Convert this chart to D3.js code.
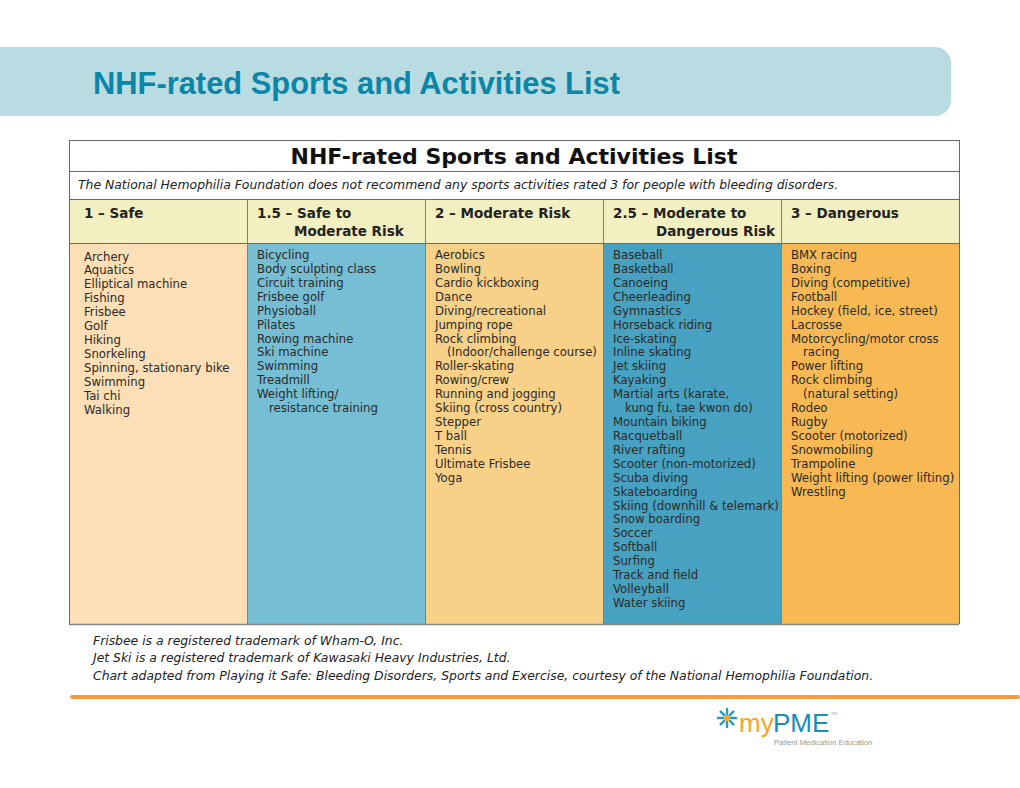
<!DOCTYPE html>
<html><head><meta charset="utf-8">
<script src="https://cdn.jsdelivr.net/npm/d3@7"></script>
<style>html,body{margin:0;padding:0;background:#fff;}svg{display:block;}</style>
</head><body>
<div id="chart"></div>
<script>
const pageTitle = "NHF-rated Sports and Activities List";
const tableTitle = "NHF-rated Sports and Activities List";
const tableNote = "The National Hemophilia Foundation does not recommend any sports activities rated 3 for people with bleeding disorders.";
const categories = [
  ["1 – Safe"],
  ["1.5 – Safe to", "Moderate Risk"],
  ["2 – Moderate Risk"],
  ["2.5 – Moderate to", "Dangerous Risk"],
  ["3 – Dangerous"]
];
const safe = ["Archery","Aquatics","Elliptical machine","Fishing","Frisbee","Golf","Hiking","Snorkeling","Spinning, stationary bike","Swimming","Tai chi","Walking"];
const safeToModerate = ["Bicycling","Body sculpting class","Circuit training","Frisbee golf","Physioball","Pilates","Rowing machine","Ski machine","Swimming","Treadmill",["Weight lifting/","resistance training"]];
const moderate = ["Aerobics","Bowling","Cardio kickboxing","Dance","Diving/recreational","Jumping rope",["Rock climbing","(Indoor/challenge course)"],"Roller-skating","Rowing/crew","Running and jogging","Skiing (cross country)","Stepper","T ball","Tennis","Ultimate Frisbee","Yoga"];
const moderateToDangerous = ["Baseball","Basketball","Canoeing","Cheerleading","Gymnastics","Horseback riding","Ice-skating","Inline skating","Jet skiing","Kayaking",["Martial arts (karate,","kung fu, tae kwon do)"],"Mountain biking","Racquetball","River rafting","Scooter (non-motorized)","Scuba diving","Skateboarding","Skiing (downhill & telemark)","Snow boarding","Soccer","Softball","Surfing","Track and field","Volleyball","Water skiing"];
const dangerous = ["BMX racing","Boxing","Diving (competitive)","Football","Hockey (field, ice, street)","Lacrosse",["Motorcycling/motor cross","racing"],"Power lifting",["Rock climbing","(natural setting)"],"Rodeo","Rugby","Scooter (motorized)","Snowmobiling","Trampoline","Weight lifting (power lifting)","Wrestling"];
const columnLists = [safe, safeToModerate, moderate, moderateToDangerous, dangerous];
const columnColors = ["#fddfb7","#76bed4","#f8d189","#47a1c0","#f8b955"];
const footnotes = [
  "Frisbee is a registered trademark of Wham-O, Inc.",
  "Jet Ski is a registered trademark of Kawasaki Heavy Industries, Ltd.",
  "Chart adapted from Playing it Safe: Bleeding Disorders, Sports and Exercise, courtesy of the National Hemophilia Foundation."
];

const W = 1020, H = 788;
const svg = d3.select("#chart").append("svg").attr("width", W).attr("height", H);

// header bar
const barPath = d3.path();
barPath.moveTo(0, 47); barPath.lineTo(935, 47);
barPath.arcTo(951, 47, 951, 63, 16); barPath.lineTo(951, 100);
barPath.arcTo(951, 116, 935, 116, 16); barPath.lineTo(0, 116); barPath.closePath();
svg.append("path").attr("d", barPath.toString()).attr("fill", "#b8dce2");
svg.append("text").attr("x", 93).attr("y", 94)
  .attr("font-family", "'Liberation Sans Narrow','Arial Narrow','Liberation Sans',Arial,sans-serif")
  .attr("font-weight", "bold").attr("font-size", 31).attr("fill", "#0a86a8")
  .attr("textLength", 527).attr("lengthAdjust", "spacingAndGlyphs")
  .text(pageTitle);

// table geometry
const x0 = 69, x1 = 959;
const xScale = d3.scaleBand().domain(d3.range(categories.length)).range([x0, x1]).paddingInner(0).paddingOuter(0);
const yTitle = 140, yNote = 171, yHead = 199, yBody = 243, yEnd = 624;
const rowH = 13.92;
const font = "'DejaVu Sans',Verdana,sans-serif";
const padLeft = [15, 10, 10, 10, 10];
const secondLineIndent = [0, 37, 0, 43, 0];
const g = svg.append("g");

g.selectAll("rect.col").data(columnLists).join("rect").attr("class","col")
  .attr("x", (d,i) => xScale(i)).attr("y", yBody)
  .attr("width", xScale.bandwidth()).attr("height", yEnd - yBody)
  .attr("fill", (d,i) => columnColors[i]);
g.selectAll("rect.head").data(categories).join("rect").attr("class","head")
  .attr("x", (d,i) => xScale(i)).attr("y", yHead)
  .attr("width", xScale.bandwidth()).attr("height", yBody - yHead)
  .attr("fill", "#f2f0c1");

const lineColor = "#6a6a6a";
[yTitle, yNote, yHead, yBody, yEnd].forEach(y => {
  g.append("line").attr("x1", x0).attr("x2", x1).attr("y1", y + 0.5).attr("y2", y + 0.5)
    .attr("stroke", y === yEnd ? "#888" : lineColor).attr("stroke-width", y === yEnd ? 1.5 : 1);
});
[x0, x1].forEach(x => g.append("line").attr("x1", x + 0.5).attr("x2", x + 0.5)
  .attr("y1", yTitle).attr("y2", yEnd).attr("stroke", lineColor));
d3.range(1, categories.length).forEach(i => {
  g.append("line").attr("x1", Math.round(xScale(i)) + 0.5).attr("x2", Math.round(xScale(i)) + 0.5)
    .attr("y1", yHead).attr("y2", yEnd).attr("stroke", "#808080");
});

g.append("text").attr("x", (x0 + x1) / 2).attr("y", 164).attr("text-anchor", "middle")
  .attr("font-family", font).attr("font-weight", "bold").attr("font-size", 21.5).attr("fill", "#111")
  .attr("textLength", 447).attr("lengthAdjust", "spacingAndGlyphs")
  .text(tableTitle);
g.append("text").attr("x", 78).attr("y", 188.5)
  .attr("font-family", font).attr("font-style", "italic").attr("font-size", 12.4).attr("fill", "#222")
  .text(tableNote);

categories.forEach((lines, i) => {
  const t = g.append("text").attr("font-family", font).attr("font-weight", "bold")
    .attr("font-size", 13.5).attr("fill", "#222");
  lines.forEach((l, k) => {
    t.append("tspan").attr("x", xScale(i) + padLeft[i] + (k > 0 ? secondLineIndent[i] : 0))
      .attr("y", 217.5 + k * 18).text(l);
  });
});

columnLists.forEach((list, i) => {
  const lines = [];
  list.forEach(item => {
    if (Array.isArray(item)) item.forEach((l, k) => lines.push({text: l, indent: k > 0}));
    else lines.push({text: item, indent: false});
  });
  const yStart = i === 0 ? 260.5 : 259;
  g.append("g").selectAll("text").data(lines).join("text")
    .attr("x", d => xScale(i) + padLeft[i] + (d.indent ? 12 : 0))
    .attr("y", (d, k) => yStart + k * rowH)
    .attr("font-family", font).attr("font-size", 11.7).attr("fill", "#2a2a2a")
    .text(d => d.text);
});

svg.append("g").selectAll("text").data(footnotes).join("text")
  .attr("x", 93).attr("y", (d, k) => 644.5 + k * 17.7)
  .attr("font-family", "'DejaVu Sans',sans-serif").attr("font-style", "italic")
  .attr("font-size", 12.4).attr("fill", "#222")
  .text(d => d);

svg.append("rect").attr("x", 70).attr("y", 695).attr("width", 950).attr("height", 4)
  .attr("fill", "#f59b43").attr("rx", 2);

// logo
const logo = svg.append("g").attr("transform", "translate(727,718)");
d3.range(8).forEach(k => {
  const a = k * Math.PI / 4;
  logo.append("line").attr("x1", Math.cos(a) * 4).attr("y1", Math.sin(a) * 4)
    .attr("x2", Math.cos(a) * 9).attr("y2", Math.sin(a) * 9)
    .attr("stroke", "#2a9bc2").attr("stroke-width", 2.4).attr("stroke-linecap", "round");
});
logo.append("circle").attr("r", 3).attr("fill", "#f5a623");
const lf = "'Liberation Sans',Arial,sans-serif";
svg.append("text").attr("x", 739).attr("y", 732).attr("font-family", lf)
  .attr("font-size", 26).attr("fill", "#f5a623").text("my");
svg.append("text").attr("x", 773).attr("y", 732).attr("font-family", lf)
  .attr("font-size", 26).attr("fill", "#1a8db0").text("PME");
svg.append("text").attr("x", 831).attr("y", 715).attr("font-family", lf)
  .attr("font-size", 4).attr("fill", "#999").text("TM");
svg.append("text").attr("x", 774).attr("y", 745).attr("font-family", lf)
  .attr("font-size", 7.6).attr("fill", "#999").text("Patient Medication Education");
</script>
</body></html>
